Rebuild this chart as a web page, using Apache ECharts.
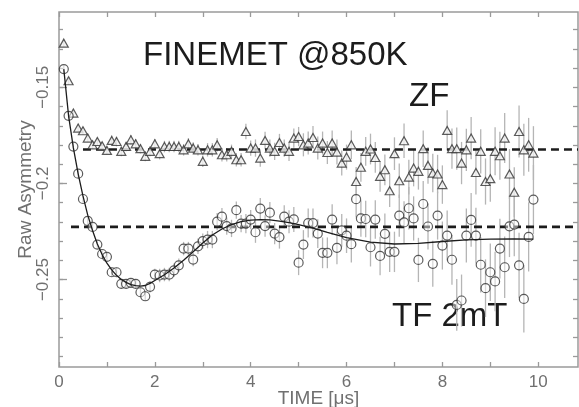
<!DOCTYPE html>
<html>
<head>
<meta charset="utf-8">
<script src="https://cdn.jsdelivr.net/npm/echarts@6/dist/echarts.min.js"></script>
<style>
html, body { margin: 0; padding: 0; background: #fff; }
#chart { width: 579px; height: 407px; }
</style>
</head>
<body>
<div id="chart"></div>
<script>
// time bins (microseconds)
var times = [0.1, 0.2, 0.3, 0.4, 0.5, 0.6, 0.7, 0.8, 0.9, 1.0,
    1.1, 1.2, 1.3, 1.4, 1.5, 1.6, 1.7, 1.8, 1.9, 2.0,
    2.1, 2.2, 2.3, 2.4, 2.5, 2.6, 2.7, 2.8, 2.9, 3.0,
    3.1, 3.2, 3.3, 3.4, 3.5, 3.6, 3.7, 3.8, 3.9, 4.0,
    4.1, 4.2, 4.3, 4.4, 4.5, 4.6, 4.7, 4.8, 4.9, 5.0,
    5.1, 5.2, 5.3, 5.4, 5.5, 5.6, 5.7, 5.8, 5.9, 6.0,
    6.1, 6.2, 6.3, 6.4, 6.5, 6.6, 6.7, 6.8, 6.9, 7.0,
    7.1, 7.2, 7.3, 7.4, 7.5, 7.6, 7.7, 7.8, 7.9, 8.0,
    8.1, 8.2, 8.3, 8.4, 8.5, 8.6, 8.7, 8.8, 8.9, 9.0,
    9.1, 9.2, 9.3, 9.4, 9.5, 9.6, 9.7, 9.8, 9.9];

// ZF (triangles)
var zfValues = [-0.1270, -0.1466, -0.1634, -0.1712, -0.1726, -0.1764, -0.1799, -0.1782, -0.1804, -0.1828,
    -0.1776, -0.1782, -0.1833, -0.1808, -0.1773, -0.1794, -0.1819, -0.1859, -0.1833, -0.1794,
    -0.1845, -0.1808, -0.1808, -0.1808, -0.1808, -0.1825, -0.1794, -0.1816, -0.1825, -0.1885,
    -0.1825, -0.1825, -0.1799, -0.1851, -0.1851, -0.1833, -0.1877, -0.1877, -0.1730, -0.1816,
    -0.1816, -0.1868, -0.1776, -0.1816, -0.1833, -0.1787, -0.1816, -0.1833, -0.1764, -0.1756,
    -0.1799, -0.1790, -0.1761, -0.1816, -0.1790, -0.1839, -0.1790, -0.1837, -0.1894, -0.1863,
    -0.1799, -0.1990, -0.1916, -0.1833, -0.1821, -0.1865, -0.1963, -0.1929, -0.2038, -0.1845,
    -0.1986, -0.1778, -0.1967, -0.1920, -0.1937, -0.1819, -0.1906, -0.1946, -0.1951, -0.2006,
    -0.1724, -0.1819, -0.1819, -0.1894, -0.1825, -0.1764, -0.1943, -0.1833, -0.1990, -0.1975,
    -0.1833, -0.1856, -0.1764, -0.1951, -0.2046, -0.1730, -0.1825, -0.1799, -0.1842];
var zfErrors = [0.002, 0.002, 0.002, 0.002, 0.002, 0.002, 0.002, 0.002, 0.002, 0.002,
    0.0025, 0.0025, 0.0025, 0.0025, 0.0025, 0.0025, 0.0025, 0.0025, 0.0025, 0.0025,
    0.003, 0.003, 0.003, 0.003, 0.003, 0.003, 0.003, 0.003, 0.003, 0.003,
    0.0035, 0.0035, 0.0035, 0.0035, 0.0035, 0.0035, 0.0035, 0.0035, 0.004, 0.004,
    0.0045, 0.0045, 0.0045, 0.0045, 0.0045, 0.0045, 0.0045, 0.005, 0.005, 0.005,
    0.006, 0.006, 0.006, 0.006, 0.006, 0.006, 0.0065, 0.0065, 0.0065, 0.0065,
    0.0075, 0.0075, 0.0075, 0.0075, 0.008, 0.008, 0.008, 0.008, 0.0085, 0.0085,
    0.009, 0.009, 0.009, 0.0095, 0.0095, 0.0095, 0.0095, 0.01, 0.01, 0.01,
    0.0105, 0.0105, 0.011, 0.011, 0.011, 0.011, 0.0115, 0.0115, 0.012, 0.012,
    0.0125, 0.0125, 0.013, 0.013, 0.013, 0.0135, 0.0135, 0.014, 0.014];

// TF 2mT (circles)
var tfValues = [-0.1405, -0.1648, -0.1808, -0.1949, -0.2081, -0.2195, -0.2226, -0.2318, -0.2367, -0.2382,
    -0.2462, -0.2462, -0.2522, -0.2522, -0.2517, -0.2522, -0.2566, -0.2587, -0.2538, -0.2474,
    -0.2479, -0.2474, -0.2474, -0.2452, -0.2426, -0.2339, -0.2339, -0.2396, -0.2327, -0.2300,
    -0.2292, -0.2292, -0.2199, -0.2173, -0.2222, -0.2234, -0.2139, -0.2209, -0.2209, -0.2188,
    -0.2254, -0.2131, -0.2222, -0.2152, -0.2261, -0.2279, -0.2173, -0.2199, -0.2187, -0.2412,
    -0.2318, -0.2206, -0.2206, -0.2261, -0.2361, -0.2361, -0.2188, -0.2335, -0.2244, -0.2272,
    -0.2316, -0.2082, -0.2182, -0.2185, -0.2332, -0.2188, -0.2377, -0.2262, -0.2356, -0.2356,
    -0.2167, -0.2203, -0.2129, -0.2182, -0.2398, -0.2107, -0.2224, -0.2418, -0.2167, -0.2323,
    -0.2271, -0.2397, -0.2632, -0.2609, -0.2271, -0.2190, -0.2271, -0.2423, -0.2545, -0.2462,
    -0.2510, -0.2339, -0.2436, -0.2223, -0.2214, -0.2426, -0.2601, -0.2278, -0.2084];
var tfErrors = [0.002, 0.002, 0.002, 0.002, 0.002, 0.002, 0.002, 0.002, 0.002, 0.002,
    0.0025, 0.0025, 0.0025, 0.0025, 0.0025, 0.0025, 0.0025, 0.0025, 0.003, 0.003,
    0.0035, 0.0035, 0.0035, 0.0035, 0.0035, 0.0035, 0.0035, 0.0035, 0.004, 0.004,
    0.0045, 0.0045, 0.0045, 0.0045, 0.0045, 0.0045, 0.0045, 0.0045, 0.005, 0.005,
    0.0055, 0.0055, 0.0055, 0.0055, 0.0055, 0.006, 0.006, 0.006, 0.0065, 0.0065,
    0.0075, 0.0075, 0.0075, 0.0075, 0.008, 0.008, 0.008, 0.0085, 0.0085, 0.009,
    0.0095, 0.0095, 0.0095, 0.0095, 0.01, 0.01, 0.01, 0.0105, 0.0105, 0.0105,
    0.011, 0.011, 0.011, 0.0115, 0.0115, 0.012, 0.012, 0.012, 0.0125, 0.0125,
    0.013, 0.013, 0.0135, 0.0135, 0.014, 0.014, 0.0145, 0.0145, 0.015, 0.015,
    0.0155, 0.0155, 0.016, 0.016, 0.0165, 0.017, 0.0175, 0.018, 0.018];

// fitted TF curve
var fitTimes = [0.1, 0.2, 0.3, 0.4, 0.5, 0.6, 0.7, 0.8, 0.9, 1.0, 1.1, 1.2, 1.3, 1.4, 1.5, 1.6, 1.7, 1.8, 1.9, 2.0,
    2.2, 2.4, 2.6, 2.8, 3.0, 3.2, 3.4, 3.6, 3.8, 4.0, 4.2, 4.4, 4.6, 4.8, 5.0, 5.3, 5.6, 6.0, 6.5, 7.0,
    7.5, 8.0, 8.5, 9.0, 9.5, 9.9];
var fitValues = [-0.1405, -0.1648, -0.1815, -0.1950, -0.2065, -0.2165, -0.2245, -0.2315, -0.2370, -0.2415,
    -0.2450, -0.2478, -0.2500, -0.2515, -0.2526, -0.2532, -0.2534, -0.2531, -0.2520, -0.2505,
    -0.2475, -0.2440, -0.2400, -0.2355, -0.2310, -0.2268, -0.2237, -0.2214, -0.2199, -0.2191,
    -0.2188, -0.2190, -0.2196, -0.2204, -0.2214, -0.2233, -0.2255, -0.2282, -0.2305, -0.2315,
    -0.2312, -0.2302, -0.2294, -0.2290, -0.2289, -0.2290];

// dashed reference levels
var zfLevel = -0.1823, zfLevelStart = 0.5;
var tfLevel = -0.2226, tfLevelStart = 0.25;

// axes
var xMin = 0, xMax = 10.83;
var yMin = -0.2955, yMax = -0.1108;
var xTicks = [0, 1, 2, 3, 4, 5, 6, 7, 8, 9, 10];
var xLabels = [0, 2, 4, 6, 8, 10];
var yTicks = [-0.29, -0.28, -0.27, -0.26, -0.25, -0.24, -0.23, -0.22, -0.21, -0.2,
    -0.19, -0.18, -0.17, -0.16, -0.15, -0.14, -0.13, -0.12];
var yLabels = [-0.25, -0.2, -0.15];

var axisGray = '#9a9a9a';
var labelGray = '#707070';
var fontName = 'Liberation Sans';

var zfData = [], tfData = [], zfBars = [], tfBars = [], fitData = [];
for (var i = 0; i < times.length; i++) {
    zfData.push([times[i], zfValues[i]]);
    tfData.push([times[i], tfValues[i]]);
    zfBars.push([times[i], zfValues[i], zfErrors[i]]);
    tfBars.push([times[i], tfValues[i], tfErrors[i]]);
}
for (var j = 0; j < fitTimes.length; j++) {
    fitData.push([fitTimes[j], fitValues[j]]);
}

function errorBar(params, api) {
    var hi = api.coord([api.value(0), api.value(1) + api.value(2)]);
    var lo = api.coord([api.value(0), api.value(1) - api.value(2)]);
    return {
        type: 'line',
        shape: { x1: hi[0], y1: hi[1], x2: lo[0], y2: lo[1] },
        style: { stroke: '#b5b5b5', lineWidth: 1.3 }
    };
}

function minusSign(v) {
    return String(v).replace('-', '\u2212');
}

function tickAxis(pos, values, len, labels) {
    var vertical = pos === 'left' || pos === 'right';
    return {
        type: 'value', position: pos,
        min: vertical ? yMin : xMin,
        max: vertical ? yMax : xMax,
        axisLine: { show: false },
        splitLine: { show: false },
        axisTick: { show: true, inside: true, length: len, customValues: values,
            lineStyle: { color: axisGray, width: 1.3 } },
        axisLabel: labels ? labels : { show: false }
    };
}

var chart = echarts.init(document.getElementById('chart'));
var option = {
    animation: false,
    backgroundColor: '#fff',
    grid: { left: 59, top: 12, right: 1, bottom: 40, show: true, outerBoundsMode: 'none',
        containLabel: false, borderColor: axisGray, borderWidth: 1.5, backgroundColor: 'transparent' },
    xAxis: [
        Object.assign(tickAxis('bottom', xTicks, 5, {
            show: true, customValues: xLabels, margin: 7,
            color: labelGray, fontSize: 17, fontFamily: fontName
        }), {
            name: 'TIME [\u03bcs]', nameLocation: 'middle', nameGap: 22, nameMoveOverlap: false,
            nameTextStyle: { color: labelGray, fontSize: 19, fontFamily: fontName }
        }),
        tickAxis('top', xTicks, 5)
    ],
    yAxis: [
        Object.assign(tickAxis('left', yLabels, 8, {
            show: true, customValues: yLabels, rotate: 90, margin: 7,
            color: labelGray, fontSize: 17, fontFamily: fontName, formatter: minusSign
        }), {
            name: 'Raw Asymmetry', nameLocation: 'middle', nameGap: 24, nameMoveOverlap: false,
            nameTextStyle: { color: labelGray, fontSize: 19, fontFamily: fontName }
        }),
        tickAxis('left', yTicks, 4),
        tickAxis('right', yTicks, 5)
    ],
    graphic: [
        { type: 'text', left: 143, top: 39, style: { text: 'FINEMET @850K', fontSize: 33,
            fontFamily: fontName, fill: '#1c1c1c' } },
        { type: 'text', left: 409, top: 80, style: { text: 'ZF', fontSize: 33,
            fontFamily: fontName, fill: '#1c1c1c' } },
        { type: 'text', left: 392, top: 300, style: { text: 'TF 2mT', fontSize: 33,
            fontFamily: fontName, fill: '#1c1c1c' } }
    ],
    series: [
        { type: 'custom', renderItem: errorBar, data: zfBars, z: 1, silent: true },
        { type: 'custom', renderItem: errorBar, data: tfBars, z: 1, silent: true },
        { type: 'line', data: [[zfLevelStart, zfLevel], [xMax, zfLevel]], symbol: 'none', z: 2,
            lineStyle: { color: '#1c1c1c', width: 2.6, type: [8, 5] } },
        { type: 'line', data: [[tfLevelStart, tfLevel], [xMax, tfLevel]], symbol: 'none', z: 2,
            lineStyle: { color: '#1c1c1c', width: 2.6, type: [8, 5] } },
        { type: 'scatter', data: zfData, symbol: 'triangle', symbolSize: [9, 8], z: 3,
            itemStyle: { color: '#f2f2f2', borderColor: '#333', borderWidth: 1.2 } },
        { type: 'scatter', data: tfData, symbol: 'circle', symbolSize: 9, z: 3,
            itemStyle: { color: 'rgba(255,255,255,0.6)', borderColor: '#333', borderWidth: 1.2 } },
        { type: 'line', data: fitData, symbol: 'none', smooth: false, z: 4,
            lineStyle: { color: '#1c1c1c', width: 1.3 } }
    ]
};
chart.setOption(option);
</script>
</body>
</html>
